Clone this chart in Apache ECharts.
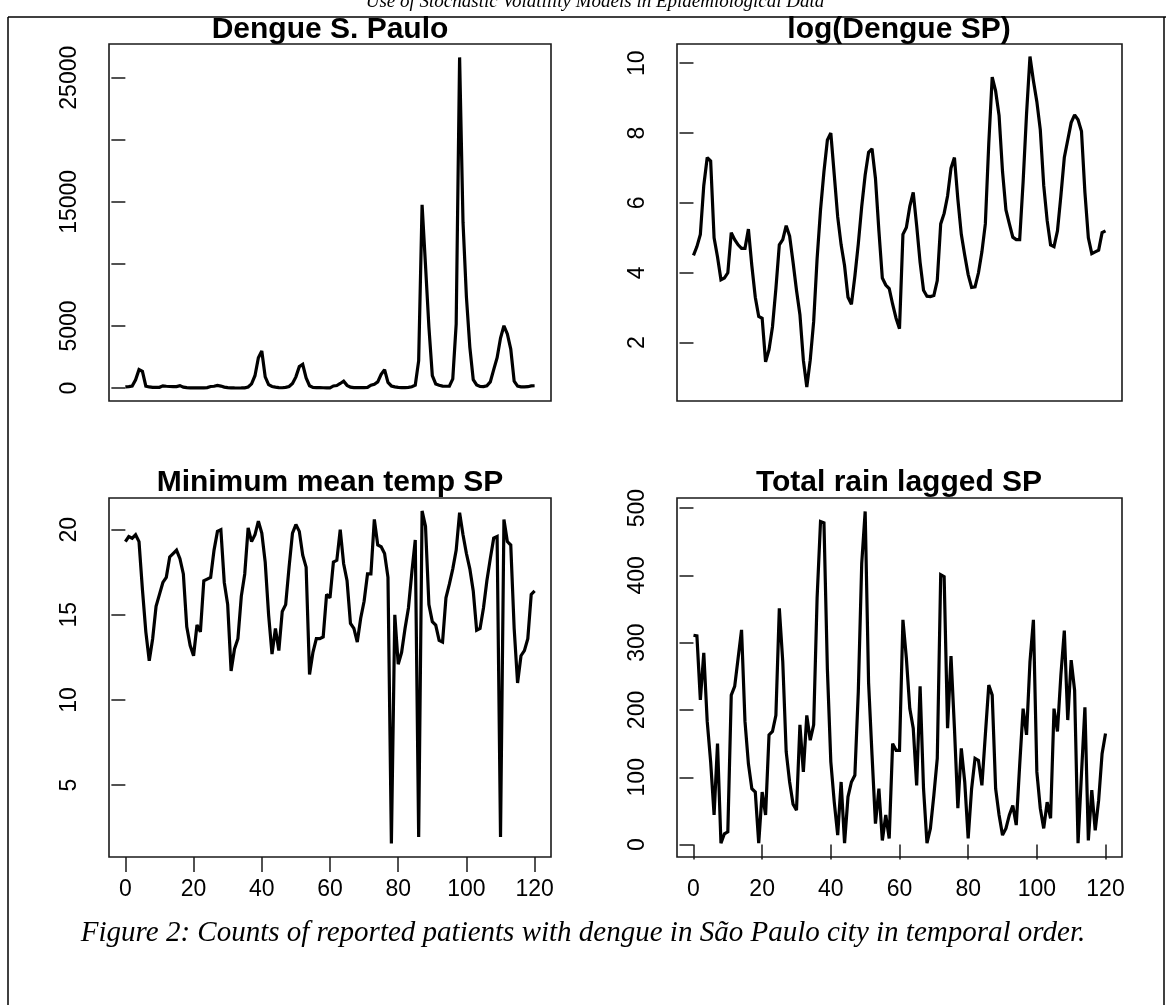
<!DOCTYPE html>
<html><head><meta charset="utf-8">
<script src="https://cdn.jsdelivr.net/npm/echarts@6/dist/echarts.min.js"></script>
<style>html,body{margin:0;padding:0;background:#fff}#c{width:1166px;height:1005px}</style>
</head><body><div id="c"></div><script>
// time index (months)
const timeIndex = Array.from({length: 121}, (_, i) => i);

const dengue = [90,116,164,665,1480,1339,148,86,45,47,
55,172,141,122,110,110,191,67,27,16,
15,4,6,12,35,122,141,211,156,74,
33,16,4,2,4,13,81,330,992,2441,
2981,898,270,122,67,27,22,49,125,365,
898,1720,1901,812,181,47,38,35,22,15,
11,164,200,365,545,211,74,33,28,28,
29,44,221,299,493,1097,1480,446,164,90,
52,36,37,55,99,221,2208,14765,9897,4915,
992,330,221,151,141,141,735,5167,26635,13360,
7332,3294,665,245,122,116,181,493,1480,2441,
4024,5014,4359,3134,545,148,95,99,105,172,
181];

const logDengue = [4.5,4.75,5.1,6.5,7.3,7.2,5.0,4.45,3.8,3.85,
4.0,5.15,4.95,4.8,4.7,4.7,5.25,4.2,3.3,2.75,
2.7,1.45,1.8,2.45,3.55,4.8,4.95,5.35,5.05,4.3,
3.5,2.8,1.5,0.73,1.5,2.6,4.4,5.8,6.9,7.8,
8.0,6.8,5.6,4.8,4.2,3.3,3.1,3.9,4.83,5.9,
6.8,7.45,7.55,6.7,5.2,3.85,3.65,3.55,3.1,2.7,
2.4,5.1,5.3,5.9,6.3,5.35,4.3,3.5,3.33,3.32,
3.35,3.78,5.4,5.7,6.2,7.0,7.3,6.1,5.1,4.5,
3.95,3.58,3.6,4.0,4.6,5.4,7.7,9.6,9.2,8.5,
6.9,5.8,5.4,5.02,4.95,4.95,6.6,8.55,10.19,9.5,
8.9,8.1,6.5,5.5,4.8,4.75,5.2,6.2,7.3,7.8,
8.3,8.52,8.38,8.05,6.3,5.0,4.55,4.6,4.65,5.15,
5.2];

const minTemp = [19.3,19.6,19.5,19.7,19.3,16.5,14.0,12.3,13.6,15.5,
16.2,16.9,17.2,18.4,18.6,18.8,18.3,17.4,14.3,13.2,
12.6,14.4,14.0,17.0,17.1,17.2,18.8,19.9,20.0,16.9,
15.6,11.7,13.0,13.6,16.1,17.4,20.1,19.3,19.7,20.5,
19.8,18.1,15.0,12.7,14.2,12.9,15.2,15.6,17.8,19.8,
20.3,19.9,18.5,17.8,11.5,12.8,13.6,13.6,13.7,16.2,
16.0,18.1,18.2,20.0,18.0,17.0,14.5,14.2,13.4,14.8,
15.8,17.4,17.4,20.6,19.1,19.0,18.6,17.2,1.57,15.0,
12.1,12.8,14.2,15.4,17.5,19.4,1.96,21.1,20.2,15.6,
14.6,14.4,13.5,13.4,16.0,16.8,17.7,18.8,21.0,19.7,
18.6,17.7,16.4,14.1,14.2,15.4,17.0,18.3,19.5,19.6,
1.96,20.6,19.3,19.1,14.2,11.0,12.6,12.9,13.6,16.2,
16.4];

const rainLagged = [311,310,215,285,183,123,44,150,2,16,
19,222,235,277,319,183,120,83,78,2,
78,44,163,168,192,351,272,138,93,60,
51,178,108,192,155,178,366,480,478,260,
123,63,14,93,2,71,93,103,227,418,
495,240,133,31,83,6,44,9,150,140,
140,334,277,202,173,88,235,83,2,24,
73,128,401,398,173,280,173,54,143,93,
9,83,128,125,88,163,237,222,83,44,
14,24,44,58,29,118,202,163,272,334,
108,54,24,63,39,202,168,252,318,185,
274,229,2,105,204,6,81,21,66,135,
165];

const xTicks = [0,20,40,60,80,100,120];
const dengueTicks = [0,5000,10000,15000,20000,25000];
const dengueLabels = [0,5000,15000,25000];
const logTicks = [2,4,6,8,10];
const tempTicks = [5,10,15,20];
const rainTicks = [0,100,200,300,400,500];

const panelTitles = ['Dengue S. Paulo','log(Dengue SP)','Minimum mean temp SP','Total rain lagged SP'];
const caption = 'Figure 2: Counts of reported patients with dengue in São Paulo city in temporal order.';
const header = 'Use of Stochastic Volatility Models in Epidemiological Data';

const SANS = 'Liberation Sans, Arial, sans-serif';
const SERIF = 'Liberation Serif, Times New Roman, serif';

const grids = [
  {left:109, top:44, width:442, height:357},
  {left:677, top:44, width:445, height:357},
  {left:109, top:498, width:442, height:359},
  {left:677, top:498, width:445, height:359}
];
const yRanges = [[-1047,27715],[0.33,10.55],[0.78,21.86],[-18.5,515]];
const yTickSets = [dengueTicks, logTicks, tempTicks, rainTicks];
const yLabelSets = [dengueLabels, logTicks, tempTicks, rainTicks];
const seriesSets = [dengue, logDengue, minTemp, rainLagged];
const plain = v => String(v);

const option = {
  animation: false,
  grid: grids.map(g => Object.assign({show:true, borderColor:'#1a1a1a', borderWidth:1.6, backgroundColor:'transparent'}, g)),
  xAxis: grids.map((g,k) => ({
    type:'value', gridIndex:k, min:-4.8, max:124.8,
    axisLine:{show:false}, splitLine:{show:false},
    axisTick:{show:k>=2, length:15, lineStyle:{color:'#1a1a1a', width:1.5}, customValues:xTicks},
    axisLabel:{show:k>=2, customValues:xTicks, formatter:plain, margin:21, fontSize:23, fontFamily:SANS, color:'#000'}
  })),
  yAxis: grids.map((g,k) => ({
    type:'value', gridIndex:k, min:yRanges[k][0], max:yRanges[k][1],
    axisLine:{show:false}, splitLine:{show:false},
    axisTick:{show:true, length:14, lineStyle:{color:'#1a1a1a', width:1.5}, customValues:yTickSets[k]},
    axisLabel:{show:true, customValues:yLabelSets[k], formatter:plain, rotate:90, margin:28, fontSize:23, fontFamily:SANS, color:'#000'}
  })),
  series: seriesSets.map((arr,k) => ({
    type:'line', xAxisIndex:k, yAxisIndex:k, showSymbol:false, silent:true,
    lineStyle:{color:'#000', width:3.2, join:'miter', miterLimit:2}, data: arr.map((v,i) => [timeIndex[i], v])
  })),
  graphic: [
    {type:'line', shape:{x1:8,y1:17,x2:1166,y2:17}, style:{stroke:'#000', lineWidth:1.5}},
    {type:'line', shape:{x1:8,y1:17,x2:8,y2:1005}, style:{stroke:'#000', lineWidth:1.5}},
    {type:'line', shape:{x1:1164,y1:17,x2:1164,y2:1005}, style:{stroke:'#000', lineWidth:1.5}},
    {type:'text', x:595, y:2, style:{text:header, font:'italic 19px '+SERIF, fill:'#000', align:'center', verticalAlign:'middle'}},
    {type:'text', x:330, y:30, style:{text:panelTitles[0], font:'bold 30px '+SANS, fill:'#000', align:'center', verticalAlign:'middle'}},
    {type:'text', x:899, y:30, style:{text:panelTitles[1], font:'bold 30px '+SANS, fill:'#000', align:'center', verticalAlign:'middle'}},
    {type:'text', x:330, y:483, style:{text:panelTitles[2], font:'bold 30px '+SANS, fill:'#000', align:'center', verticalAlign:'middle'}},
    {type:'text', x:899, y:483, style:{text:panelTitles[3], font:'bold 30px '+SANS, fill:'#000', align:'center', verticalAlign:'middle'}},
    {type:'text', x:583, y:933, style:{text:caption, font:'italic 29px '+SERIF, fill:'#000', align:'center', verticalAlign:'middle'}}
  ]
};
echarts.init(document.getElementById('c'), null, {renderer:'canvas'}).setOption(option);
</script></body></html>
